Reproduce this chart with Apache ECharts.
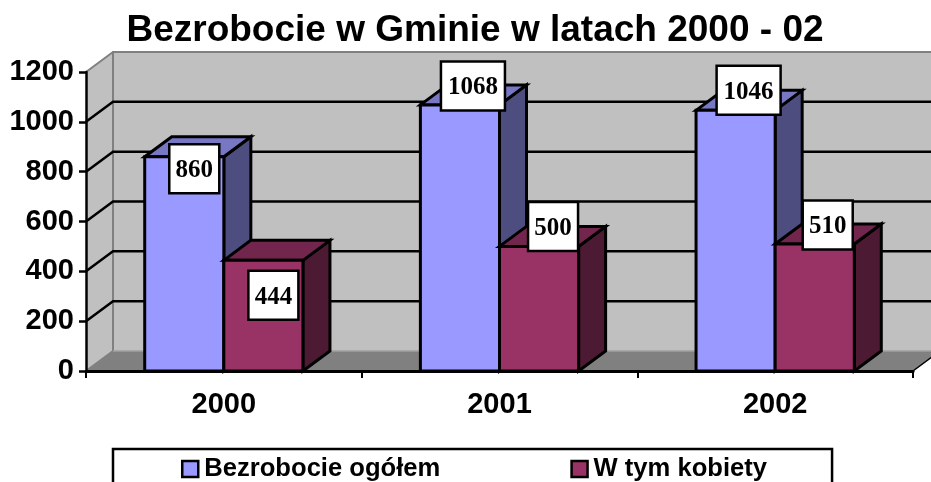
<!DOCTYPE html>
<html>
<head>
<meta charset="utf-8">
<title>Bezrobocie w Gminie</title>
<script src="https://cdn.jsdelivr.net/npm/echarts@6/dist/echarts.min.js"></script>
<style>
  html, body { margin: 0; padding: 0; background: #fff; overflow: hidden; }
  #chart { width: 931px; height: 482px; }
</style>
</head>
<body>
<div id="chart"></div>
<script>
const years = ['2000', '2001', '2002']
const bezrobocie = [860, 1068, 1046]
const kobiety = [444, 500, 510]
const yTicks = [0, 200, 400, 600, 800, 1000, 1200]

// label box shift from the top middle of a bar, hand placed like in the original
const bezrobocieLabelShift = [[10, 12], [13, -19], [13, -20]]
const kobietyLabelShift = [[10, 35], [14, -20], [13, -19]]

const depthX = 27
const depthY = -20
const barShare = 0.287

function wallItem(params, api) {
  const g = params.coordSys
  const left = g.x
  const right = g.x + g.width
  const y0 = api.coord([0, 0])[1]
  const yTop = api.coord([0, yTicks[yTicks.length - 1]])[1]
  const children = [
    // back wall
    { type: 'rect', shape: { x: left + depthX, y: yTop + depthY, width: g.width, height: y0 - yTop },
      style: { fill: '#C0C0C0' } },
    // left wall
    { type: 'polygon', shape: { points: [[left, y0], [left + depthX, y0 + depthY], [left + depthX, yTop + depthY], [left, yTop]] },
      style: { fill: '#C0C0C0' } },
    // floor
    { type: 'polygon', shape: { points: [[left, y0], [left + depthX, y0 + depthY], [right + depthX, y0 + depthY], [right, y0]] },
      style: { fill: '#808080' } },
    { type: 'polyline', shape: { points: [[left, y0], [left + depthX, y0 + depthY], [left + depthX, yTop + depthY], [right + depthX, yTop + depthY]] },
      style: { fill: null, stroke: '#808080', lineWidth: 2 } },
    { type: 'line', shape: { x1: left, y1: yTop, x2: left + depthX, y2: yTop + depthY },
      style: { stroke: '#808080', lineWidth: 2 } },
    { type: 'line', shape: { x1: left + depthX, y1: y0 + depthY, x2: right + depthX, y2: y0 + depthY },
      style: { stroke: '#A0A0A0', lineWidth: 1.5 } },
    { type: 'line', shape: { x1: right, y1: y0, x2: right + depthX, y2: y0 + depthY },
      style: { stroke: '#000', lineWidth: 1.5 } }
  ]
  yTicks.slice(1, -1).forEach(v => {
    const y = api.coord([0, v])[1]
    children.push({ type: 'polyline', shape: { points: [[left, y], [left + depthX, y + depthY], [right + depthX, y + depthY]] },
      style: { fill: null, stroke: '#000', lineWidth: 2.5 } })
  })
  return { type: 'group', children }
}

function barRenderer(side, front, sideFace, topFace, shifts) {
  return function (params, api) {
    const cat = api.value(0)
    const val = api.value(1)
    const base = api.coord([cat, 0])
    const top = api.coord([cat, val])
    const w = api.size([1, 0])[0] * barShare
    const x = side < 0 ? base[0] - w : base[0]
    const edge = { stroke: '#000', lineWidth: 3, lineJoin: 'miter' }
    const shift = shifts[params.dataIndex]
    const boxW = String(val).length * 14 + 8
    const boxH = 49
    const cx = x + w / 2 + shift[0]
    const cy = top[1] + shift[1]
    return {
      type: 'group',
      children: [
        { type: 'polygon', shape: { points: [[x + w, top[1]], [x + w + depthX, top[1] + depthY], [x + w + depthX, base[1] + depthY], [x + w, base[1]]] },
          style: Object.assign({ fill: sideFace }, edge) },
        { type: 'polygon', shape: { points: [[x, top[1]], [x + depthX, top[1] + depthY], [x + w + depthX, top[1] + depthY], [x + w, top[1]]] },
          style: Object.assign({ fill: topFace }, edge) },
        { type: 'rect', shape: { x, y: top[1], width: w, height: base[1] - top[1] },
          style: Object.assign({ fill: front }, edge) },
        { type: 'rect', shape: { x: cx - boxW / 2, y: cy - boxH / 2, width: boxW, height: boxH },
          style: { fill: '#fff', stroke: '#000', lineWidth: 2.5 } },
        { type: 'text', x: cx, y: cy + 2,
          style: { text: String(val), fill: '#000', align: 'center', verticalAlign: 'middle',
            font: 'bold 25px "Liberation Serif", serif' } }
      ]
    }
  }
}

const chart = echarts.init(document.getElementById('chart'), null, { renderer: 'canvas' })

chart.setOption({
  animation: false,
  backgroundColor: '#fff',
  title: {
    text: 'Bezrobocie w Gminie w latach 2000 - 02',
    left: 470,
    top: 7,
    textAlign: 'center',
    textStyle: { fontFamily: 'Liberation Sans', fontWeight: 'bold', fontSize: 37, color: '#000' }
  },
  legend: {
    data: ['Bezrobocie ogółem', 'W tym kobiety'],
    left: 113,
    top: 449,
    padding: [7, 65, 12, 68],
    itemWidth: 16,
    itemHeight: 16,
    itemGap: 130,
    backgroundColor: '#fff',
    borderColor: '#000',
    borderWidth: 2.5,
    borderRadius: 0,
    icon: 'rect',
    itemStyle: { borderColor: '#000', borderWidth: 2.5 },
    textStyle: { fontFamily: 'Liberation Sans', fontWeight: 'bold', fontSize: 25.6, color: '#000', padding: [0, 0, 0, 1] }
  },
  grid: { left: 86, top: 72, width: 827, height: 299, containLabel: false },
  xAxis: {
    type: 'category',
    data: years,
    z: 5,
    axisLine: { lineStyle: { color: '#000', width: 3 } },
    axisTick: { show: true, length: 7, lineStyle: { color: '#000', width: 2 } },
    axisLabel: { show: true, margin: 19, color: '#000', fontFamily: 'Liberation Sans', fontWeight: 'bold', fontSize: 29 },
    splitLine: { show: false }
  },
  yAxis: {
    type: 'value',
    min: 0,
    max: 1200,
    interval: 200,
    z: 5,
    axisLine: { show: true, lineStyle: { color: '#000', width: 2.5 } },
    axisTick: { show: true, length: 7, lineStyle: { color: '#000', width: 2.5 } },
    axisLabel: { margin: 12, color: '#000', fontFamily: 'Liberation Sans', fontWeight: 'bold', fontSize: 29, formatter: v => String(v) },
    splitLine: { show: false }
  },
  series: [
    {
      type: 'custom',
      name: 'wall',
      silent: true,
      clip: false,
      z: 1,
      renderItem: wallItem,
      data: [0]
    },
    {
      type: 'custom',
      name: 'Bezrobocie ogółem',
      z: 2,
      clip: false,
      itemStyle: { color: '#9999FF', borderColor: '#000', borderWidth: 2 },
      encode: { x: 0, y: 1 },
      renderItem: barRenderer(-1, '#9999FF', '#4D4D80', '#7777C4', bezrobocieLabelShift),
      data: years.map((y, i) => [i, bezrobocie[i]])
    },
    {
      type: 'custom',
      name: 'W tym kobiety',
      z: 3,
      clip: false,
      itemStyle: { color: '#993366', borderColor: '#000', borderWidth: 2 },
      encode: { x: 0, y: 1 },
      renderItem: barRenderer(1, '#993366', '#4D1A33', '#73264D', kobietyLabelShift),
      data: years.map((y, i) => [i, kobiety[i]])
    }
  ]
})
</script>
</body>
</html>
